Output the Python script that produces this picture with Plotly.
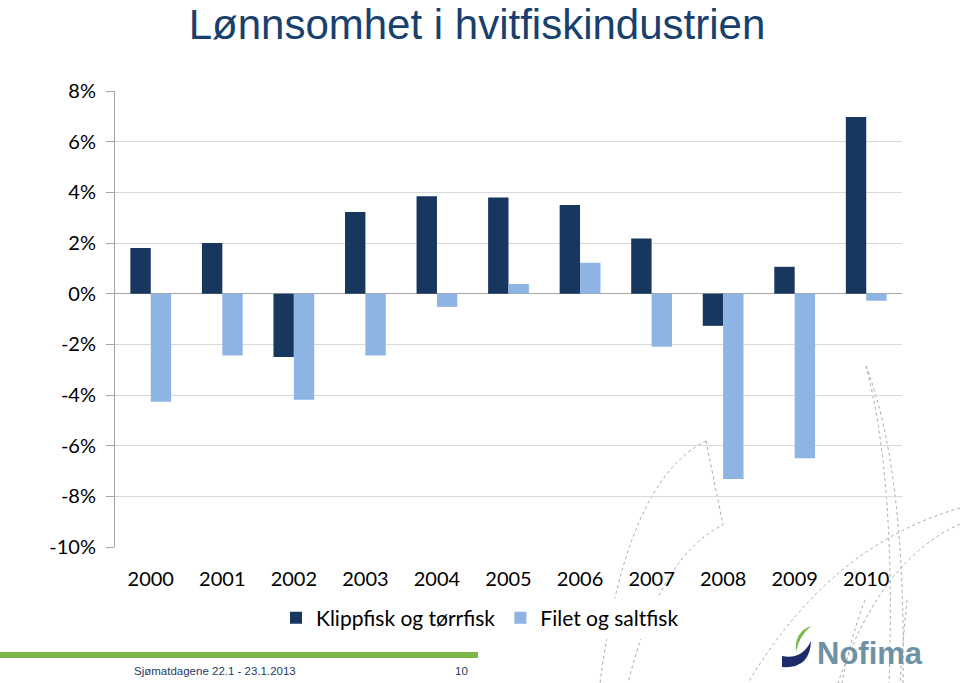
import plotly.graph_objects as go

years = ["2000", "2001", "2002", "2003", "2004", "2005", "2006", "2007", "2008", "2009", "2010"]
klippfisk = [1.8, 2.0, -2.5, 3.22, 3.85, 3.8, 3.5, 2.18, -1.27, 1.06, 6.97]
filet = [-4.27, -2.44, -4.19, -2.44, -0.52, 0.38, 1.22, -2.1, -7.32, -6.5, -0.28]
series_names = ["Klippfisk og tørrfisk", "Filet og saltfisk"]
ytick_vals = [-10, -8, -6, -4, -2, 0, 2, 4, 6, 8]
ytick_text = ["-10%", "-8%", "-6%", "-4%", "-2%", "0%", "2%", "4%", "6%", "8%"]

W, H = 960, 683
L, R, T, B = 115, 58, 91, 136
PW, PH = W - L - R, H - T - B


def px(x):
    return (x - L) / PW


def py(y):
    return (H - B - y) / PH


def path(cmds):
    out = []
    for c in cmds:
        if isinstance(c, str):
            out.append(c)
        else:
            out.append(f"{px(c[0]):.4f},{py(c[1]):.4f}")
    return " ".join(out)


fig = go.Figure()
fig.add_trace(go.Bar(x=years, y=klippfisk, name=series_names[0], marker_color="#17375E",
                     marker_line_width=0))
fig.add_trace(go.Bar(x=years, y=filet, name=series_names[1], marker_color="#8EB4E3",
                     marker_line_width=0))

shapes = []
# decorative dotted curves
dotted = [
    ["M", (866, 366), "Q", (906, 470), (903, 683)],
    ["M", (866, 366), "Q", (896, 480), (889, 683)],
    ["M", (706, 441), "Q", (626, 480), (600, 683)],
    ["M", (706, 441), "L", (723, 525), "Q", (660, 555), (628, 683)],
    ["M", (960, 508), "Q", (830, 545), (748, 683)],
    ["M", (960, 524), "Q", (880, 560), (838, 683)],
    ["M", (865, 600), "Q", (850, 640), (842, 683)],
    ["M", (907, 600), "Q", (903, 640), (900, 683)],
]
for d in dotted:
    shapes.append(dict(type="path", xref="paper", yref="paper", path=path(d),
                       line=dict(color="#A8A8A8", width=1, dash="dot"), layer="below"))

# green footer bar
shapes.append(dict(type="rect", xref="paper", yref="paper", x0=px(0), x1=px(478),
                   y0=py(652), y1=py(658), fillcolor="#7AB648", line_width=0))
# logo swooshes
shapes.append(dict(type="path", xref="paper", yref="paper",
                   path=path(["M", (811, 626), "Q", (794, 632), (796, 652), "Q", (799, 636), (811, 626), "Z"]),
                   fillcolor="#7AB648", line_width=0))
shapes.append(dict(type="path", xref="paper", yref="paper",
                   path=path(["M", (782, 656), "Q", (802, 660), (811, 641), "Q", (810, 669), (782, 667), "Z"]),
                   fillcolor="#1F2A6B", line_width=0))

annotations = [
    dict(text="Sjømatdagene 22.1 - 23.1.2013", xref="paper", yref="paper", x=px(132), y=py(671),
         xanchor="left", yanchor="middle", showarrow=False,
         font=dict(family="Liberation Sans, Arial", size=11.5, color="#1F3A5F")),
    dict(text="10", xref="paper", yref="paper", x=px(461), y=py(671),
         xanchor="center", yanchor="middle", showarrow=False,
         font=dict(family="Liberation Sans, Arial", size=11.5, color="#1F3A5F")),
    dict(text="<b>Nofima</b>", xref="paper", yref="paper", x=px(815), y=py(653),
         xanchor="left", yanchor="middle", showarrow=False,
         font=dict(family="Liberation Sans, Arial", size=31, color="#6E92A3")),
]

fig.update_layout(
    width=W, height=H, autosize=False,
    margin=dict(l=L, r=R, t=T, b=B),
    paper_bgcolor="white", plot_bgcolor="white",
    title=dict(text="Lønnsomhet i hvitfiskindustrien", x=477 / W, xanchor="center",
               y=1 - 24 / H, yanchor="middle",
               font=dict(family="Liberation Sans, Arial", size=42, color="#17406D")),
    barmode="group", bargap=0.43, bargroupgap=0,
    showlegend=True,
    legend=dict(orientation="h", x=px(480), xanchor="center", y=py(618), yanchor="middle",
                font=dict(family="Lato", size=21, color="#000000"), traceorder="normal",
                itemclick=False),
    shapes=shapes, annotations=annotations,
    font=dict(family="Lato", size=20, color="#000000"),
)
fig.update_xaxes(type="category", showgrid=False, showline=False, ticks="",
                 tickfont=dict(family="Lato", size=20, color="#000000"),
                 ticklabelstandoff=18)
fig.update_yaxes(range=[-10, 8], tickvals=ytick_vals, ticktext=ytick_text,
                 showgrid=True, gridcolor="#D9D9D9", gridwidth=1,
                 zeroline=True, zerolinecolor="#A6A6A6", zerolinewidth=1,
                 showline=True, linecolor="#A6A6A6", linewidth=1,
                 ticks="outside", ticklen=8, tickcolor="#A6A6A6",
                 tickfont=dict(family="Lato", size=20, color="#000000"),
                 ticklabelstandoff=6)

fig.write_html("out.html", config={"displayModeBar": False},
               post_script="document.body.style.margin='0';document.body.style.overflow='hidden';")
